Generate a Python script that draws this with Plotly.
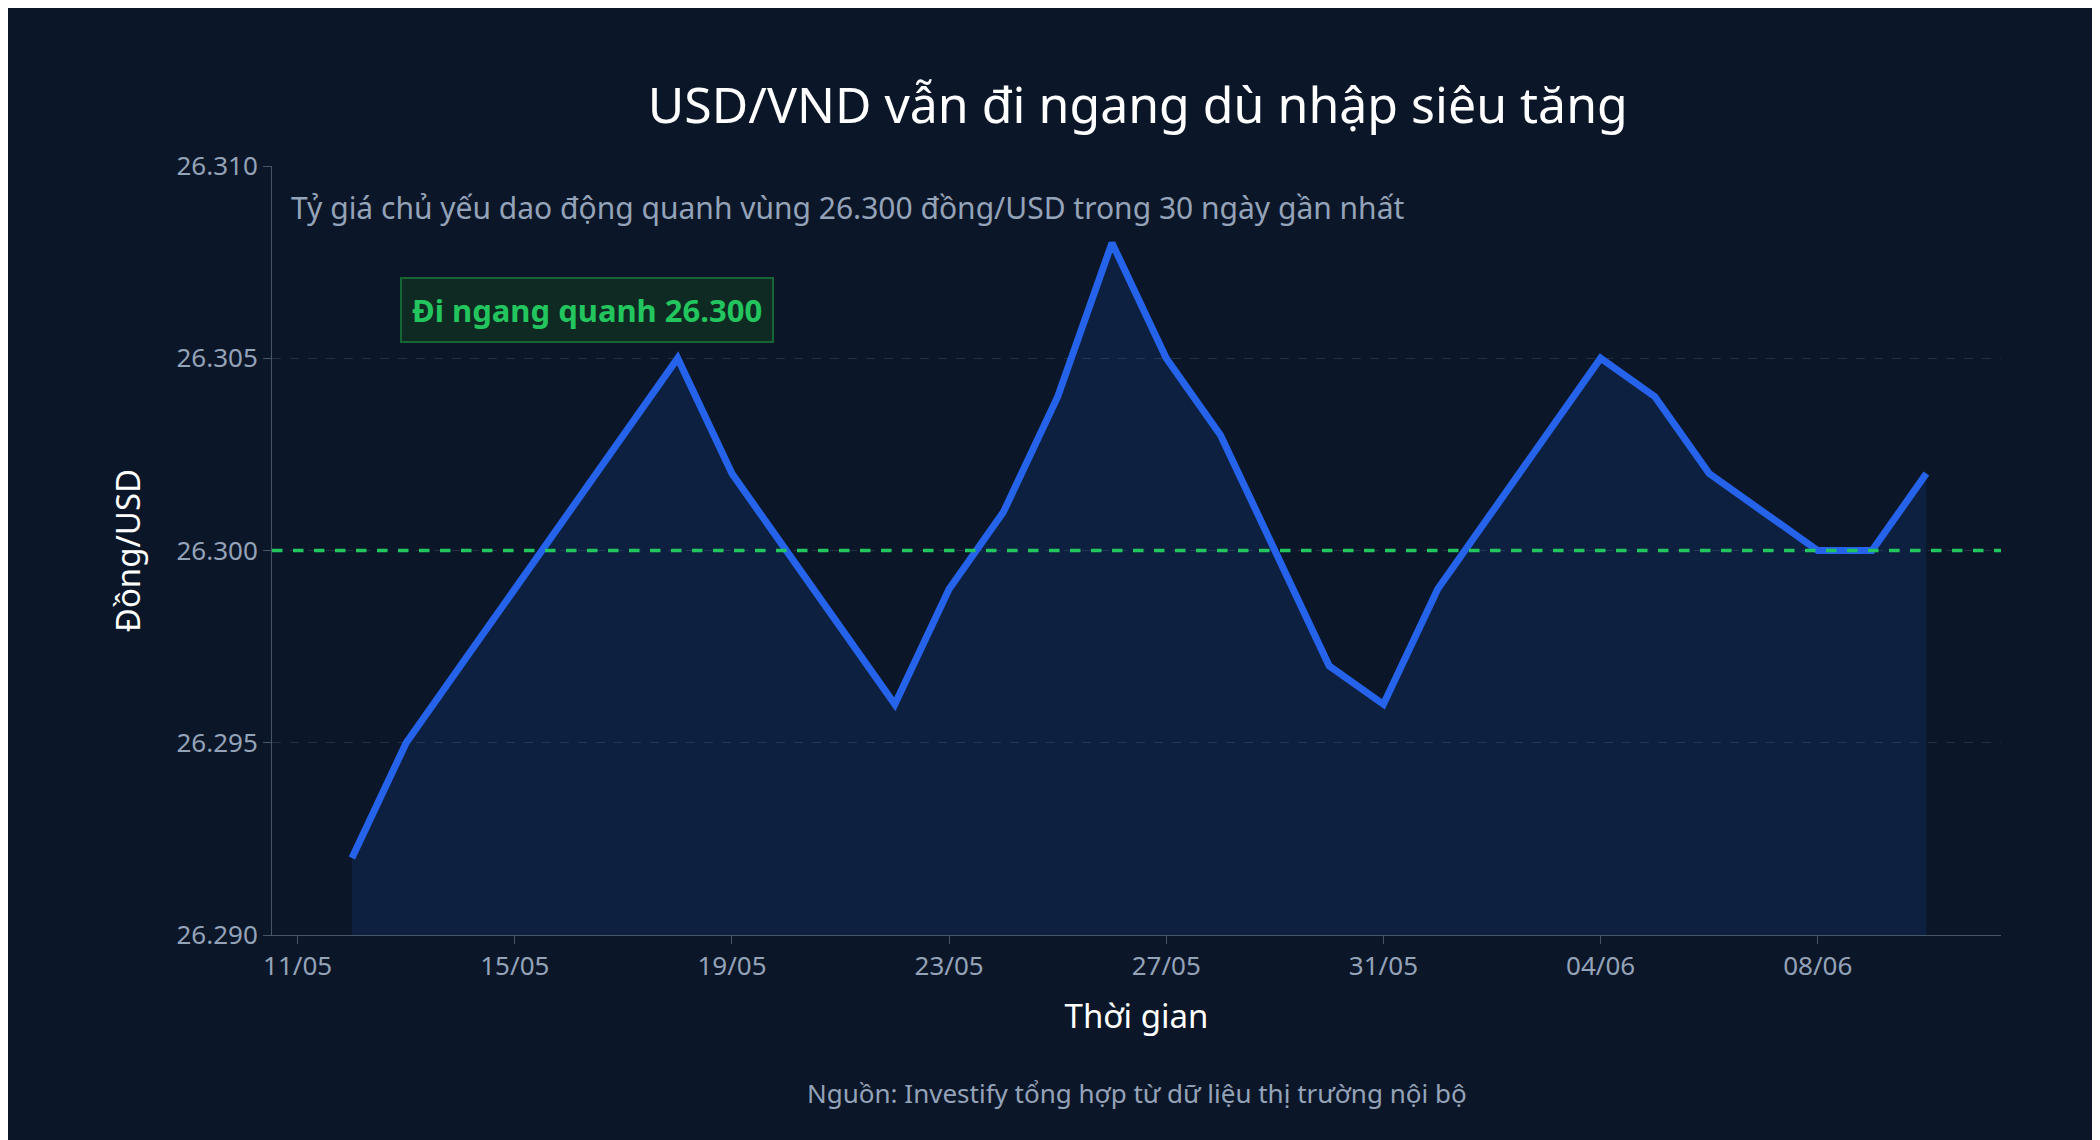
import pandas as pd
import plotly.graph_objects as go

# USD/VND daily rate, 12/05 -> 10/06
dates = pd.date_range("2025-05-12", "2025-06-10", freq="D")
rates = [26292, 26295, 26297, 26299, 26301, 26303, 26305, 26302, 26300, 26298,
         26296, 26299, 26301, 26304, 26308, 26305, 26303, 26300, 26297, 26296,
         26299, 26301, 26303, 26305, 26304, 26302, 26301, 26300, 26300, 26302]

y_ticks = [26290, 26295, 26300, 26305, 26310]
y_labels = ["26.290", "26.295", "26.300", "26.305", "26.310"]

bg = "#0b1628"
font = "Noto Sans"

fig = go.Figure()
fig.add_trace(go.Scatter(
    x=dates, y=rates, mode="lines",
    line=dict(color="#2563eb", width=7),
    fill="tozeroy", fillcolor="rgba(37,99,235,0.13)",
    hoverinfo="x+y", showlegend=False,
))

fig.add_hline(y=26300, line=dict(color="#22c55e", width=3.5, dash="dash"))

fig.add_annotation(
    x=0.01, y=0.975, xref="paper", yref="paper", xanchor="left", yanchor="top",
    text="Tỷ giá chủ yếu dao động quanh vùng 26.300 đồng/USD trong 30 ngày gần nhất",
    showarrow=False, font=dict(family=font, size=30, color="#94a3b8"),
)
fig.add_annotation(
    x="2025-05-16 08:00", y=26306.25, text="<b>Đi ngang quanh 26.300</b>",
    showarrow=False, font=dict(family=font, size=31, color="#22c55e"),
    bgcolor="#0f2a22", bordercolor="#166534", borderwidth=2, borderpad=10,
)
fig.add_annotation(
    x=0.5, y=-0.18, xref="paper", yref="paper", yanchor="top",
    text="Nguồn: Investify tổng hợp từ dữ liệu thị trường nội bộ",
    showarrow=False, font=dict(family=font, size=26, color="#94a3b8"),
)

fig.update_layout(
    width=2100, height=1140,
    paper_bgcolor=bg, plot_bgcolor=bg,
    margin=dict(l=264, r=107, t=158, b=213),
    font=dict(family=font, color="#94a3b8"),
    title=dict(text="USD/VND vẫn đi ngang dù nhập siêu tăng", x=0.538, xanchor="center",
               y=0.93, font=dict(family=font, size=50, color="#ffffff")),
)
fig.update_xaxes(
    type="date", range=["2025-05-10 12:40", "2025-06-11 09:00"],
    tick0="2025-05-11", dtick=4 * 86400000, tickformat="%d/%m",
    showgrid=False, showline=True, linecolor="#475569", linewidth=1,
    ticks="outside", tickcolor="#475569", ticklen=8,
    tickfont=dict(size=26, color="#94a3b8"),
    title=dict(text="Thời gian", font=dict(size=33, color="#ffffff"), standoff=22),
)
fig.update_yaxes(
    range=[26290, 26310], tickvals=y_ticks, ticktext=y_labels,
    showgrid=True, gridcolor="#233044", griddash="dash", gridwidth=1,
    showline=True, linecolor="#475569", linewidth=1,
    ticks="outside", tickcolor="#475569", ticklen=8,
    tickfont=dict(size=26, color="#94a3b8"), zeroline=False,
    title=dict(text="Đồng/USD", font=dict(size=33, color="#ffffff"), standoff=25),
)

fig.write_html("out.html")
